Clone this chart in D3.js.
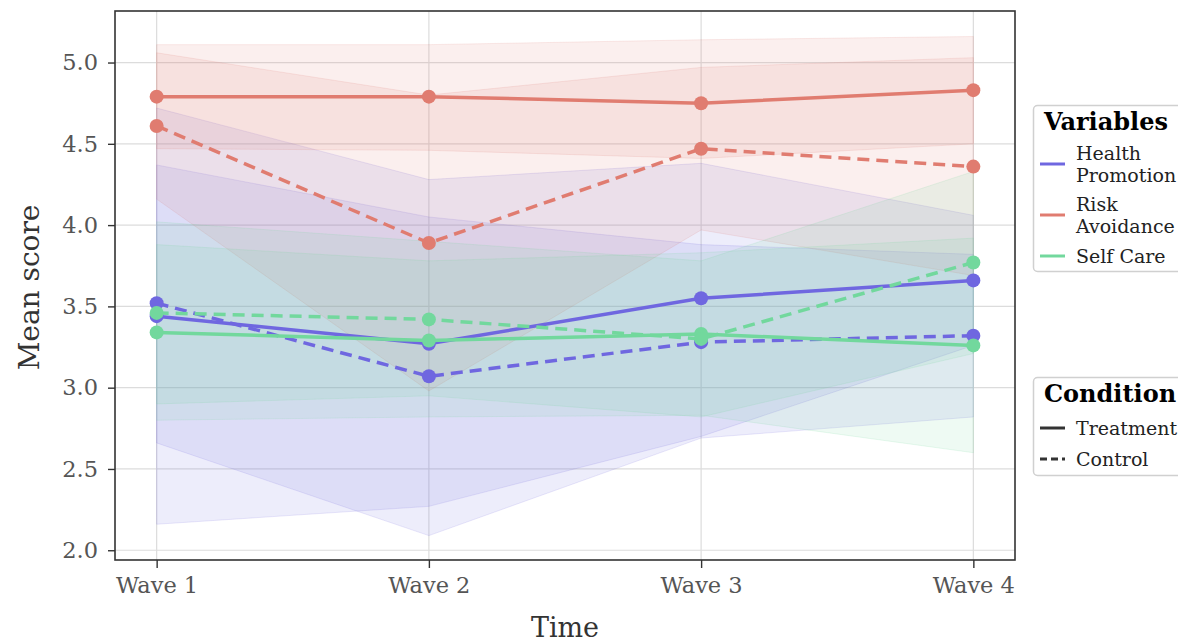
<!DOCTYPE html>
<html>
<head>
<meta charset="utf-8">
<script src="https://cdn.jsdelivr.net/npm/d3@7"></script>
<style>
  body { margin: 0; background: #fff; }
  svg { display: block; font-family: "DejaVu Serif", serif; }
</style>
</head>
<body>
<svg id="chart" width="1178" height="644"></svg>
<script>
// waves, groups, and per-series values
var waves = ["Wave 1", "Wave 2", "Wave 3", "Wave 4"];
var variables = ["Health Promotion", "Risk Avoidance", "Self Care"];
var conditions = ["Treatment", "Control"];
var yTicks = [2.0, 2.5, 3.0, 3.5, 4.0, 4.5, 5.0];

var hpTreatMean = [3.44, 3.27, 3.55, 3.66];
var hpTreatLow  = [2.16, 2.27, 2.70, 3.26];
var hpTreatHigh = [4.72, 4.28, 4.38, 4.06];
var hpCtrlMean  = [3.52, 3.07, 3.28, 3.32];
var hpCtrlLow   = [2.66, 2.09, 2.69, 2.82];
var hpCtrlHigh  = [4.37, 4.05, 3.88, 3.82];

var raTreatMean = [4.79, 4.79, 4.75, 4.83];
var raTreatLow  = [4.47, 4.46, 4.41, 4.50];
var raTreatHigh = [5.11, 5.11, 5.14, 5.16];
var raCtrlMean  = [4.61, 3.89, 4.47, 4.36];
var raCtrlLow   = [4.16, 2.98, 3.97, 3.69];
var raCtrlHigh  = [5.06, 4.80, 4.97, 5.03];

var scTreatMean = [3.34, 3.29, 3.33, 3.26];
var scTreatLow  = [2.80, 2.82, 2.83, 2.60];
var scTreatHigh = [3.88, 3.78, 3.83, 3.92];
var scCtrlMean  = [3.46, 3.42, 3.30, 3.77];
var scCtrlLow   = [2.90, 2.95, 2.82, 3.21];
var scCtrlHigh  = [4.02, 3.90, 3.78, 4.33];

var colors = { "Health Promotion": "#6f67e0", "Risk Avoidance": "#e07c70", "Self Care": "#72d89d" };

var series = [
  { v: "Health Promotion", c: "Treatment", mean: hpTreatMean, low: hpTreatLow, high: hpTreatHigh },
  { v: "Health Promotion", c: "Control", mean: hpCtrlMean, low: hpCtrlLow, high: hpCtrlHigh },
  { v: "Risk Avoidance", c: "Treatment", mean: raTreatMean, low: raTreatLow, high: raTreatHigh },
  { v: "Risk Avoidance", c: "Control", mean: raCtrlMean, low: raCtrlLow, high: raCtrlHigh },
  { v: "Self Care", c: "Treatment", mean: scTreatMean, low: scTreatLow, high: scTreatHigh },
  { v: "Self Care", c: "Control", mean: scCtrlMean, low: scCtrlLow, high: scCtrlHigh }
];

(function () {
  var svg = d3.select("#chart");
  var pL = 115, pR = 1015, pT = 11, pB = 560;

  var x = d3.scalePoint().domain(waves).range([pL, pR]).padding(0.153);
  var y = d3.scaleLinear().domain([1.94, 5.317]).range([pB, pT]);

  // grid
  svg.append("g").selectAll("line").data(yTicks).enter().append("line")
    .attr("x1", pL).attr("x2", pR)
    .attr("y1", function (d) { return y(d); }).attr("y2", function (d) { return y(d); })
    .attr("stroke", "#dcdcdc").attr("stroke-width", 1.2);
  svg.append("g").selectAll("line").data(waves).enter().append("line")
    .attr("y1", pT).attr("y2", pB)
    .attr("x1", function (d) { return x(d); }).attr("x2", function (d) { return x(d); })
    .attr("stroke", "#dcdcdc").attr("stroke-width", 1.2);

  // bands
  var area = d3.area()
    .x(function (d) { return x(d.w); })
    .y0(function (d) { return y(d.lo); })
    .y1(function (d) { return y(d.hi); });

  svg.append("g").selectAll("path").data(series).enter().append("path")
    .attr("d", function (s) {
      return area(waves.map(function (w, i) { return { w: w, lo: s.low[i], hi: s.high[i] }; }));
    })
    .attr("fill", function (s) { return colors[s.v]; })
    .attr("fill-opacity", 0.12)
    .attr("stroke", function (s) { return colors[s.v]; })
    .attr("stroke-opacity", 0.15);

  // lines + markers
  var line = d3.line()
    .x(function (d, i) { return x(waves[i]); })
    .y(function (d) { return y(d); });

  series.forEach(function (s) {
    svg.append("path")
      .attr("d", line(s.mean))
      .attr("fill", "none")
      .attr("stroke", colors[s.v])
      .attr("stroke-width", 3.5)
      .attr("stroke-dasharray", s.c === "Control" ? "12,7" : null);
    svg.append("g").selectAll("circle").data(s.mean).enter().append("circle")
      .attr("cx", function (d, i) { return x(waves[i]); })
      .attr("cy", function (d) { return y(d); })
      .attr("r", 7)
      .attr("fill", colors[s.v]);
  });

  // frame
  svg.append("rect")
    .attr("x", pL).attr("y", pT)
    .attr("width", pR - pL).attr("height", pB - pT)
    .attr("fill", "none").attr("stroke", "#333").attr("stroke-width", 1.6);

  // axes
  var xAxis = svg.append("g").attr("transform", "translate(0," + pB + ")")
    .call(d3.axisBottom(x).tickSize(8).tickPadding(9));
  var yAxis = svg.append("g").attr("transform", "translate(" + pL + ",0)")
    .call(d3.axisLeft(y).tickValues(yTicks).tickFormat(d3.format(".1f")).tickSize(7).tickPadding(10));
  [xAxis, yAxis].forEach(function (a) {
    a.select(".domain").remove();
    a.selectAll(".tick line").attr("stroke", "#333").attr("stroke-width", 1.4);
    a.selectAll(".tick text").attr("fill", "#555").style("font-size", "22.5px")
      .style("font-family", "'DejaVu Serif', serif");
  });

  svg.append("text")
    .attr("x", (pL + pR) / 2).attr("y", 637)
    .attr("text-anchor", "middle").attr("fill", "#333")
    .style("font-size", "27px").text("Time");
  svg.append("text")
    .attr("transform", "translate(39," + ((pT + pB) / 2 + 2) + ") rotate(-90)")
    .attr("text-anchor", "middle").attr("fill", "#333")
    .style("font-size", "28px").text("Mean score");

  // legends
  function legendBox(y0, h, title, items) {
    var g = svg.append("g");
    g.append("rect")
      .attr("x", 1033.5).attr("y", y0).attr("width", 170).attr("height", h)
      .attr("rx", 4).attr("fill", "#fff").attr("stroke", "#d0d0d0").attr("stroke-width", 1.5);
    g.append("text")
      .attr("x", 1044).attr("y", y0 + 24)
      .attr("font-weight", "bold").attr("fill", "#000")
      .style("font-size", "24px").text(title);
    items.forEach(function (it) {
      g.append("line")
        .attr("x1", 1040).attr("x2", 1065)
        .attr("y1", it.y).attr("y2", it.y)
        .attr("stroke", it.color).attr("stroke-width", 3)
        .attr("stroke-dasharray", it.dash);
      it.lines.forEach(function (t, k) {
        g.append("text")
          .attr("x", 1076)
          .attr("y", it.y + 7 - (it.lines.length - 1) * 11 + k * 22)
          .attr("fill", "#222")
          .style("font-size", "19px").text(t);
      });
    });
  }

  legendBox(105.5, 166, "Variables", variables.map(function (v, i) {
    return { color: colors[v], dash: null, y: [164, 215, 256][i], lines: v === "Self Care" ? [v] : v.split(" ") };
  }));
  legendBox(377.5, 98, "Condition", conditions.map(function (c, i) {
    return { color: "#333", dash: c === "Control" ? "7,4" : null, y: [428, 459][i], lines: [c] };
  }));
})();
</script>
</body>
</html>
